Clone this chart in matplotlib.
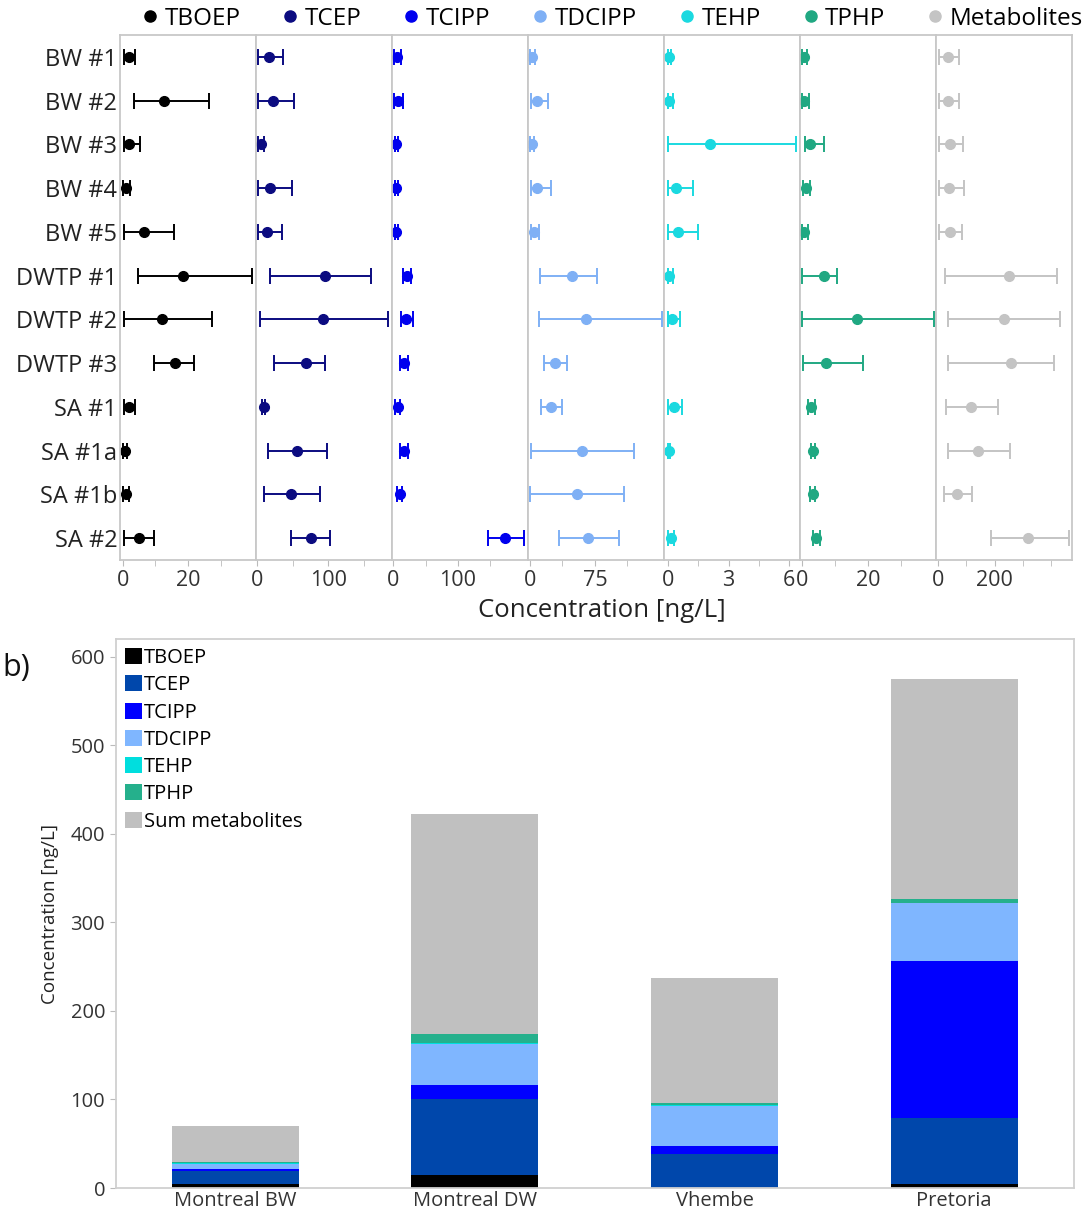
import matplotlib.pyplot as plt
from matplotlib.lines import Line2D
import numpy as np

plt.rcParams['font.family'] = ['Open Sans', 'DejaVu Sans']

samples = ["BW #1", "BW #2", "BW #3", "BW #4", "BW #5", "DWTP #1", "DWTP #2",
           "DWTP #3", "SA #1", "SA #1a", "SA #1b", "SA #2"]
compounds = ["TBOEP", "TCEP", "TCIPP", "TDCIPP", "TEHP", "TPHP", "Metabolites"]
nan = np.nan

# mean, lower, upper per sample (ng/L)
tboep_mean = [1.8, 12.8, 1.9, 1.1, 6.5, 18.6, 12.1, 16.0, 2.1, 0.7, 1.1, 4.9]
tboep_lo = [0.5, 3.4, 0.5, 0.2, 0.5, 4.7, 0.5, 9.5, 0.5, 0.2, 0.2, 0.5]
tboep_hi = [3.7, 26.5, 5.3, 2.3, 15.8, 39.5, 27.4, 21.9, 3.7, 1.3, 1.9, 9.5]

tcep_mean = [16, 21.8, 4.9, 18.4, 13.6, 94.7, 92, 68, 8.7, 56, 47.6, 74.8]
tcep_lo = [1.5, 1.5, 1.5, 1.5, 1.5, 17.5, 3.9, 23.3, 6.3, 15, 8.7, 47.6]
tcep_hi = [36, 52, 8.7, 49, 34, 160, 183.5, 94.7, 11.2, 98.5, 87.4, 102.4]

tcipp_mean = [5.9, 7.5, 4.8, 4.8, 4.8, 20.9, 19.3, 16, 7.5, 17.1, 10, 174]
tcipp_lo = [1, 1, 2.8, 2.8, 1.8, 15.5, 11.8, 10, 3.2, 10, 6.4, 146.5]
tcipp_hi = [11.8, 15.5, 6.8, 6.8, 7.8, 27.3, 30.5, 23.5, 10.7, 23.5, 13.9, 202.7]

tdcipp_mean = [2.7, 8.5, 2.7, 8.5, 4.6, 48.3, 64.6, 28.6, 24.7, 60.7, 54.1, 67.6]
tdcipp_lo = [0, 1.2, 0.8, 1.2, 1.5, 11.6, 10.4, 17, 13.1, 1.9, 0.8, 33.6]
tdcipp_hi = [5.8, 21, 5, 25, 10.4, 77.3, 152, 43.3, 37.5, 120.6, 109, 102.4]

tehp_mean = [0.05, 0.05, 2.07, 0.40, 0.47, 0.05, 0.21, nan, 0.31, 0.04, nan, 0.12]
tehp_lo = [0.0, 0.0, 0.0, 0.0, 0.0, 0.0, 0.0, nan, 0.0, 0.0, nan, 0.0]
tehp_hi = [0.12, 0.22, 6.33, 1.24, 1.47, 0.22, 0.6, nan, 0.69, 0.1, nan, 0.31]

tphp_mean = [0.74, 0.84, 2.6, 1.4, 0.84, 6.8, 16.8, 7.4, 2.8, 3.5, 3.3, 4.4]
tphp_lo = [0.0, 0.0, 1.05, 0.5, 0.0, 0.2, 0.2, 0.5, 1.8, 2.8, 2.6, 3.4]
tphp_hi = [1.6, 2.1, 6.6, 2.4, 1.8, 10.7, 39.8, 18.6, 3.9, 4.1, 3.9, 5.5]

metab_mean = [36, 36, 44, 40, 42, 252, 233, 258, 116, 143, 67, 320]
metab_lo = [2.5, 2.5, 2.5, 5, 5, 26, 36, 36, 27, 36, 20, 186]
metab_hi = [75, 75, 88, 91, 86, 421, 431, 412, 211, 256, 120, 462]

# stacked bars (panel b)
sites = ["Montreal BW", "Montreal DW", "Vhembe", "Pretoria"]
bar_labels = ["TBOEP", "TCEP", "TCIPP", "TDCIPP", "TEHP", "TPHP", "Sum metabolites"]
bar_tboep = [5.0, 15.0, 0.3, 5.0]
bar_tcep = [14.5, 85.0, 38.5, 74.0]
bar_tcipp = [2.0, 16.0, 8.5, 177.0]
bar_tdcipp = [6.0, 47.0, 45.5, 66.0]
bar_tehp = [0.4, 0.4, 0.4, 0.4]
bar_tphp = [1.0, 10.5, 2.5, 3.5]
bar_metab = [41.0, 248.0, 141.5, 249.0]

dot_colors = ["#000000", "#0b0b80", "#0000ee", "#7fb0f5", "#1ad9e0", "#20a882", "#c4c4c4"]
bar_colors = ["#000000", "#0047ab", "#0000ff", "#7fb6ff", "#00dede", "#25b08c", "#c0c0c0"]

series = [
    (tboep_mean, tboep_lo, tboep_hi),
    (tcep_mean, tcep_lo, tcep_hi),
    (tcipp_mean, tcipp_lo, tcipp_hi),
    (tdcipp_mean, tdcipp_lo, tdcipp_hi),
    (tehp_mean, tehp_lo, tehp_hi),
    (tphp_mean, tphp_lo, tphp_hi),
    (metab_mean, metab_lo, metab_hi),
]
xlims = [(-0.8, 40.8), (-1.9, 189.3), (-2.1, 209), (-1.9, 154.6),
         (-0.21, 6.55), (-0.5, 40.5), (-7, 474)]
major = [[0, 20], [0, 100], [0, 100], [0, 75], [0, 3, 6], [0, 20], [0, 200]]
minor = [[10, 30], [50, 150], [50, 150], [37.5, 112.5], [1.5, 4.5], [10, 30], [100, 300, 400]]

W, H = 1085, 1218
fig = plt.figure(figsize=(W / 100, H / 100), dpi=100)

spine_c = "#c8c8c8"
left_px, panel_w = 120, 136
top_bot = 1 - 560 / H
top_h = (560 - 35) / H
rows = np.arange(len(samples))
for i, (m, lo, hi) in enumerate(series):
    ax = fig.add_axes([(left_px + i * panel_w) / W, top_bot, panel_w / W, top_h])
    m = np.array(m, dtype=float)
    err = np.array([m - np.array(lo, dtype=float), np.array(hi, dtype=float) - m])
    ax.errorbar(m, rows, xerr=err, fmt="o", color=dot_colors[i], ms=7,
                elinewidth=1.4, capsize=6, capthick=1.4)
    ax.set_xlim(*xlims[i])
    ax.set_ylim(11.5, -0.5)
    ax.set_xticks(major[i])
    ax.set_xticks(minor[i], minor=True)
    ax.set_yticks(rows)
    if i == 0:
        ax.set_yticklabels(samples, fontsize=17, color="#222222")
    else:
        ax.set_yticklabels([])
    ax.tick_params(axis="y", length=0, pad=2)
    ax.tick_params(axis="x", which="both", length=4, color="#bbbbbb",
                   labelsize=15.5, labelcolor="#333333", pad=3)
    for s in ax.spines.values():
        s.set_color(spine_c)
        s.set_linewidth(1.3)

fig.text(602 / W, 1 - 610 / H, "Concentration [ng/L]", ha="center", va="center",
         fontsize=18.5, color="#222222")

handles = [Line2D([], [], ls="", marker="o", ms=8, color=c) for c in dot_colors]
fig.legend(handles, compounds, loc="center", bbox_to_anchor=(611 / W, 1 - 19 / H),
           ncol=7, frameon=False, fontsize=17.5, handletextpad=0.15,
           columnspacing=1.6, handlelength=0.9)

# panel b
ax2 = fig.add_axes([115.5 / W, 1 - 1188 / H, (1074 - 115.5) / W, (1188 - 639) / H])
x = np.arange(len(sites))
stack = [bar_tboep, bar_tcep, bar_tcipp, bar_tdcipp, bar_tehp, bar_tphp, bar_metab]
bottom = np.zeros(len(sites))
for vals, lab, col in zip(stack, bar_labels, bar_colors):
    ax2.bar(x, vals, 0.53, bottom=bottom, color=col, label=lab)
    bottom += np.array(vals)
ax2.set_xlim(-0.5, 3.5)
ax2.set_ylim(0, 620)
ax2.set_yticks(np.arange(0, 601, 100))
ax2.set_xticks(x)
ax2.set_xticklabels(sites)
ax2.tick_params(axis="both", labelsize=14.5, labelcolor="#333333", color="#bbbbbb")
ax2.tick_params(axis="x", length=0, pad=2)
ax2.tick_params(axis="y", length=4)
for s in ax2.spines.values():
    s.set_color("#d0d0d0")
    s.set_linewidth(1.3)
ax2.set_ylabel("Concentration [ng/L]", fontsize=13.5, color="#222222", labelpad=8)
ax2.legend(loc="upper left", frameon=False, fontsize=14.5, handlelength=0.85,
           handleheight=0.85, handletextpad=0.1, labelspacing=0.36,
           borderaxespad=0.2, borderpad=0.25)

fig.text(0.002, 1 - 668 / H, "b)", fontsize=22, ha="left", va="center", color="#111111")

fig.savefig("out.png", dpi=100)
